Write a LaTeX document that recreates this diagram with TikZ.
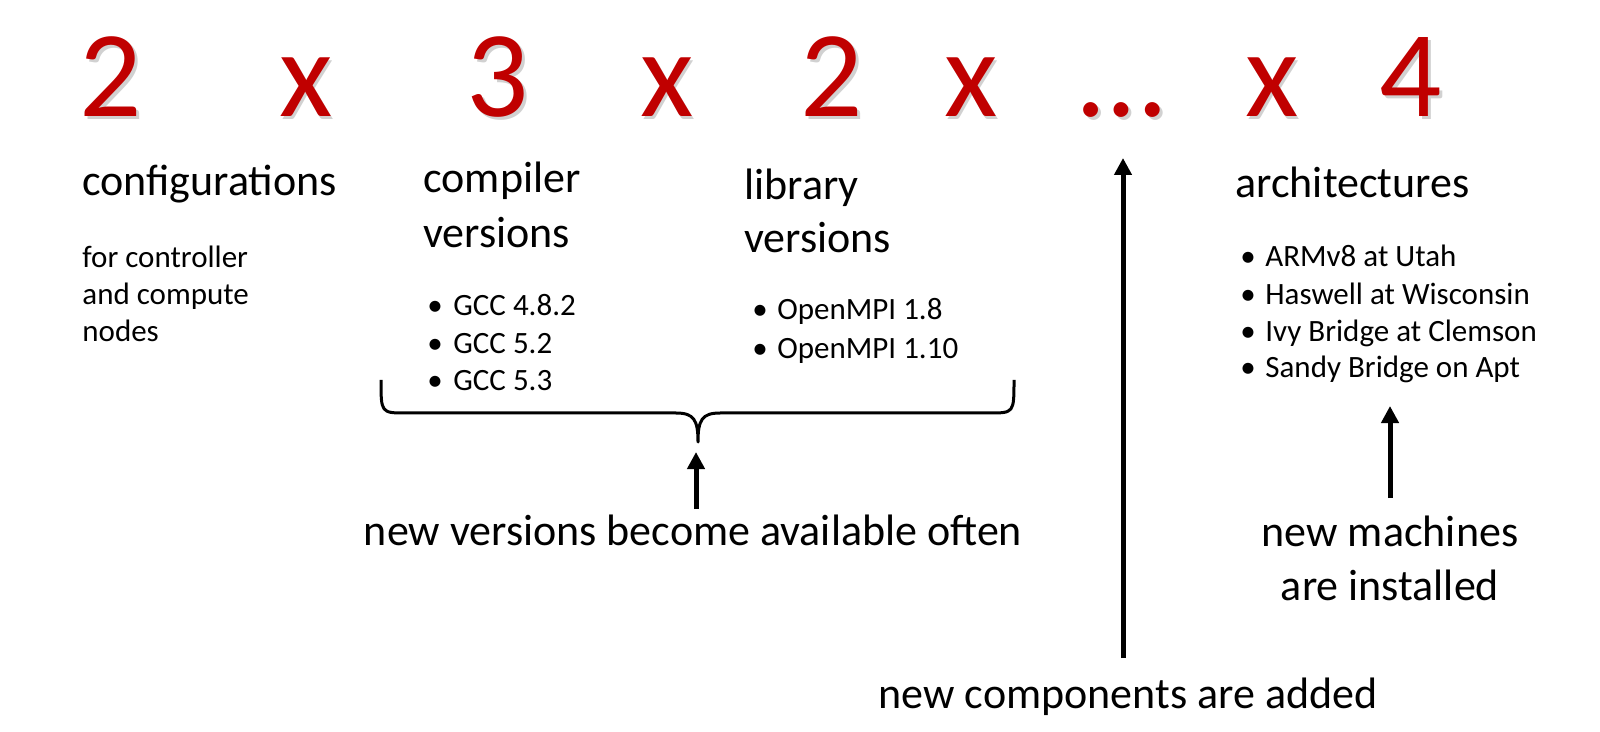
\documentclass[tikz,border=0pt]{standalone}
\usepackage{fontspec}
\setmainfont{Carlito}
\usetikzlibrary{arrows.meta}
\definecolor{bigred}{HTML}{C00000}
\tikzset{
  big/.style={inner sep=0pt, anchor=base, text=bigred, font=\fontsize{61.5}{70}\selectfont},
  bigshadow/.style={inner sep=0pt, anchor=base, text=black, opacity=0.18, font=\fontsize{61.5}{70}\selectfont},
  head/.style={inner sep=0pt, anchor=base west, font=\fontsize{22}{26}\selectfont},
  small/.style={inner sep=0pt, anchor=base west, font=\fontsize{15.5}{18.5}\selectfont},
  note/.style={inner sep=0pt, anchor=base, font=\fontsize{22}{26}\selectfont},
  uparrow/.style={line width=2.5pt, -{Triangle[width=8.5pt,length=8.5pt]}},
  bracepath/.style={line width=1.5pt, line join=round}
}
\begin{document}
\begin{tikzpicture}[x=0.5pt,y=-0.5pt]
\useasboundingbox (0,0) rectangle (1600,732);
% big factors, soft shadow first
\foreach \t/\xx in {2/111, x/306, 3/498, x/667, 2/832, x/971, {…}/1122, x/1272, 4/1411}{
  \node[bigshadow] at (\xx+2.5,117+2.5) {\t};
}
\node[big] (n1) at (111,117) {2};
\node[big] (x1) at (306,117) {x};
\node[big] (n2) at (498,117) {3};
\node[big] (x2) at (667,117) {x};
\node[big] (n3) at (832,117) {2};
\node[big] (x3) at (971,117) {x};
\node[big] (dots) at (1122,117) {…};
\node[big] (x4) at (1272,117) {x};
\node[big] (n4) at (1411,117) {4};
% headings
\node[head] (conf) at (82,196) {configurations};
\node[head] (comp1) at (423,193) {compiler};
\node[head] (comp2) at (423,248) {versions};
\node[head] (lib1) at (744,200) {library};
\node[head] (lib2) at (744,253) {versions};
\node[head] (arch) at (1235,198) {architectures};
% configuration details
\node[small] (c1) at (82,268) {for controller};
\node[small] (c2) at (82,305) {and compute};
\node[small] (c3) at (82,342) {nodes};
% compiler list
\node[small] (gb1) at (427,316) {•};
\node[small] (g1) at (453,316) {GCC 4.8.2};
\node[small] (gb2) at (427,354) {•};
\node[small] (g2) at (453,354) {GCC 5.2};
\node[small] (gb3) at (427,391) {•};
\node[small] (g3) at (453,391) {GCC 5.3};
% library list
\node[small] (lb1) at (752,320) {•};
\node[small] (l1) at (777,320) {OpenMPI 1.8};
\node[small] (lb2) at (752,358) {•};
\node[small] (l2) at (777,358) {OpenMPI 1.10};
% architecture list
\node[small] (ab1) at (1240,267) {•};
\node[small] (a1) at (1265,267) {ARMv8 at Utah};
\node[small] (ab2) at (1240,305) {•};
\node[small] (a2) at (1265,305) {Haswell at Wisconsin};
\node[small] (ab3) at (1240,342) {•};
\node[small] (a3) at (1265,342) {Ivy Bridge at Clemson};
\node[small] (ab4) at (1240,378) {•};
\node[small] (a4) at (1265,378) {Sandy Bridge on Apt};
% brace
\coordinate (brtip) at (698,442);
\draw[bracepath] (381,380) .. controls (381,413) and (381,413) .. (406,413)
  -- (676,413) .. controls (694,413) and (698,420) .. (brtip)
  .. controls (698,420) and (702,413) .. (720,413)
  -- (989,413) .. controls (1014,413) and (1014,413) .. (1014,380);
% notes
\node[note] (nv) at (693,545) {new versions become available often};
\node[note] (nc) at (1128,708) {new components are added};
\node[note] (nm1) at (1390,546) {new machines};
\node[note] (nm2) at (1390,600) {are installed};
% arrows
\coordinate (a1s) at (696,509);
\coordinate (a1e) at (696,452);
\draw[uparrow] (a1s) -- (a1e);
\coordinate (a2s) at (1123,658);
\coordinate (a2e) at (1123,158);
\draw[uparrow] (a2s) -- (a2e);
\coordinate (a3s) at (1390,498);
\coordinate (a3e) at (1390,406);
\draw[uparrow] (a3s) -- (a3e);
\end{tikzpicture}
\end{document}
